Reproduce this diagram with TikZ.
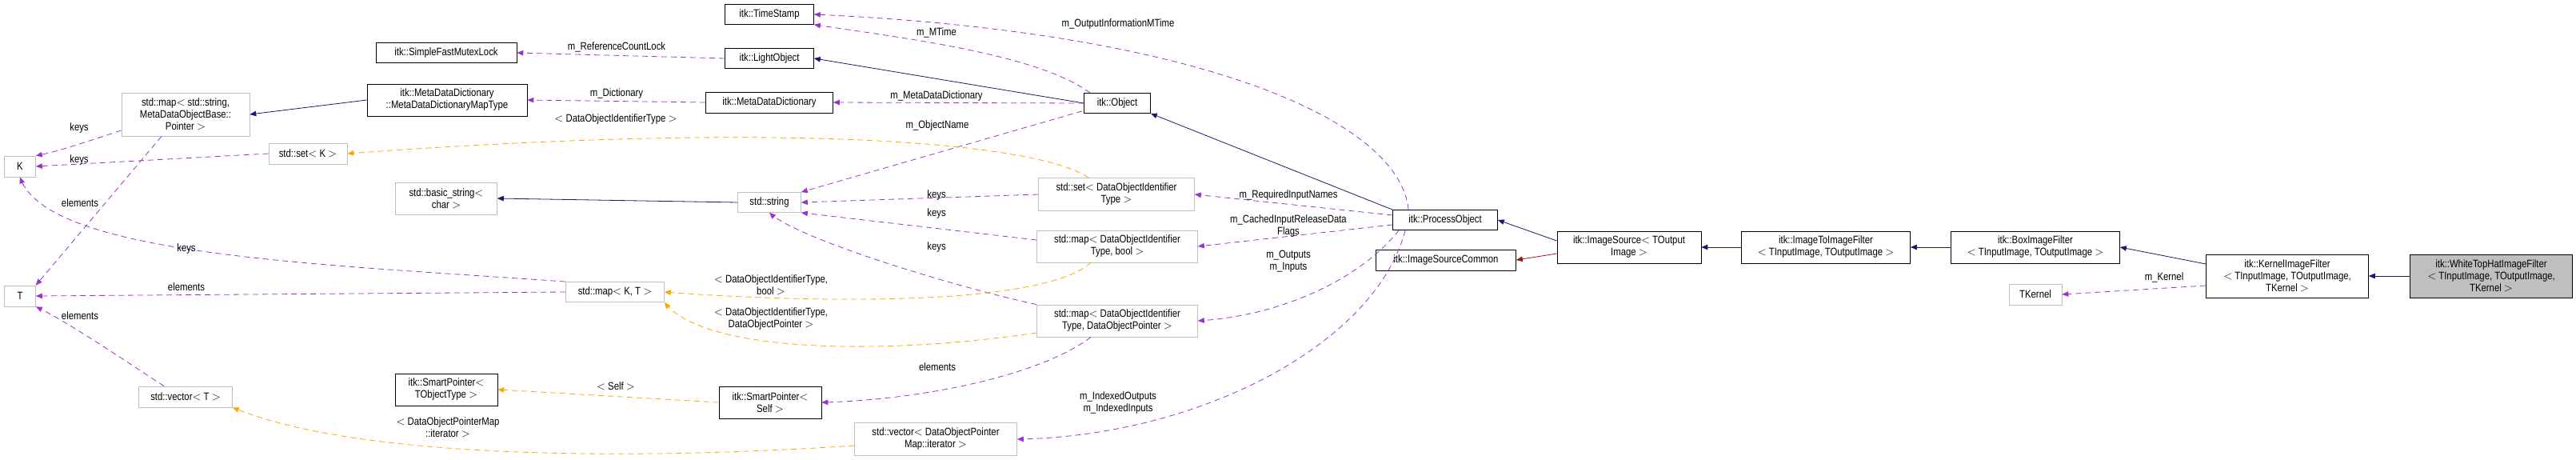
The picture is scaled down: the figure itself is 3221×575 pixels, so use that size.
\documentclass[tikz,border=0pt]{standalone}
\usepackage{fontspec}
\setmainfont{Liberation Sans}[FakeStretch=0.84]
\usetikzlibrary{arrows,positioning}
\definecolor{usecol}{HTML}{9A32CD}
\definecolor{tplcol}{HTML}{FFA500}
\definecolor{inhcol}{HTML}{191970}
\definecolor{prvcol}{HTML}{8B1A1A}
\tikzset{
  cls/.style={draw=black,thick,fill=white,align=center,inner sep=1pt,font=\fontsize{13.5}{15}\selectfont},
  ext/.style={draw=black!25,thick,fill=white,align=center,inner sep=1pt,font=\fontsize{13.5}{15}\selectfont},
  lbl/.style={align=center,inner sep=0pt,font=\fontsize{13.5}{15}\selectfont},
  use/.style={usecol,thick,dashed,dash pattern=on 7pt off 5pt,-triangle 45},
  tpl/.style={tplcol,thick,dashed,dash pattern=on 7pt off 5pt,-triangle 45},
  inh/.style={inhcol,thick,-triangle 45},
  prv/.style={prvcol,thick,-triangle 45}
}
\begin{document}
\begin{tikzpicture}[x=1pt,y=-1pt]
\useasboundingbox (0,0) rectangle (3221,575);

% classes
\node[cls,minimum width=111,minimum height=25] (stamp) at (962,18) {itk::TimeStamp};
\node[cls,minimum width=111,minimum height=25] (light) at (962,73) {itk::LightObject};
\node[cls,minimum width=176,minimum height=25] (mutex) at (558,66) {itk::SimpleFastMutexLock};
\node[cls,minimum width=159,minimum height=26] (mdd) at (962,128) {itk::MetaDataDictionary};
\node[cls,minimum width=200,minimum height=40] (mddmap) at (559,125) {itk::MetaDataDictionary\\::MetaDataDictionaryMapType};
\node[ext,minimum width=160,minimum height=54] (mapstr) at (232,143) {std::map$<$ std::string,\\MetaDataObjectBase::\\Pointer $>$};
\node[ext,minimum width=39,minimum height=26] (K) at (25,208) {K};
\node[ext,minimum width=39,minimum height=26] (T) at (25,370) {T};
\node[ext,minimum width=98,minimum height=26] (setK) at (385,192) {std::set$<$ K $>$};
\node[ext,minimum width=127,minimum height=40] (bstr) at (558,248) {std::basic\_string$<$\\char $>$};
\node[ext,minimum width=123,minimum height=25] (mapKT) at (769,365) {std::map$<$ K, T $>$};
\node[ext,minimum width=117,minimum height=26] (vecT) at (232,496) {std::vector$<$ T $>$};
\node[cls,minimum width=128,minimum height=40] (sptobj) at (558,487) {itk::SmartPointer$<$\\TObjectType $>$};
\node[cls,minimum width=83,minimum height=25] (object) at (1397,129) {itk::Object};
\node[ext,minimum width=79,minimum height=25] (str) at (962,253) {std::string};
\node[ext,minimum width=195,minimum height=41] (setid) at (1396,243) {std::set$<$ DataObjectIdentifier\\Type $>$};
\node[ext,minimum width=201,minimum height=40] (mapbool) at (1397,308) {std::map$<$ DataObjectIdentifier\\Type, bool $>$};
\node[ext,minimum width=201,minimum height=40] (mapptr) at (1397,401) {std::map$<$ DataObjectIdentifier\\Type, DataObjectPointer $>$};
\node[cls,minimum width=128,minimum height=40] (sptself) at (963,503) {itk::SmartPointer$<$\\Self $>$};
\node[ext,minimum width=203,minimum height=41] (vecit) at (1170,549) {std::vector$<$ DataObjectPointer\\Map::iterator $>$};
\node[cls,minimum width=131,minimum height=25] (proc) at (1807,275) {itk::ProcessObject};
\node[cls,minimum width=175,minimum height=26] (srccom) at (1808,325) {itk::ImageSourceCommon};
\node[cls,minimum width=180,minimum height=40] (src) at (2037,309) {itk::ImageSource$<$ TOutput\\Image $>$};
\node[cls,minimum width=211,minimum height=40] (i2i) at (2283,309) {itk::ImageToImageFilter\\$<$ TInputImage, TOutputImage $>$};
\node[cls,minimum width=211,minimum height=40] (box) at (2545,309) {itk::BoxImageFilter\\$<$ TInputImage, TOutputImage $>$};
\node[cls,minimum width=203,minimum height=54] (kernel) at (2860,345) {itk::KernelImageFilter\\$<$ TInputImage, TOutputImage,\\TKernel $>$};
\node[cls,fill=black!25,minimum width=203,minimum height=54] (wth) at (3115,345) {itk::WhiteTopHatImageFilter\\$<$ TInputImage, TOutputImage,\\TKernel $>$};
\node[ext,minimum width=66,minimum height=26] (tkern) at (2545,368) {TKernel};

% inheritance
\draw[inh] (object.west) -- (light.east);
\draw[inh] (mddmap.west) -- (mapstr.east);
\draw[inh] (str.west) -- (bstr.east);
\draw[inh] (proc.north west) -- (object.south east);
\draw[inh] (src.west) ++(0,-8) -- (proc.east);
\draw[prv] (src.west) ++(0,8) -- (srccom.east);
\draw[inh] (i2i.west) -- (src.east);
\draw[inh] (box.west) -- (i2i.east);
\draw[inh] (kernel.west) ++(0,-15) -- (box.east);
\draw[inh] (wth.west) -- (kernel.east);

% members
\draw[use] (object.north west) ++(8,0) .. controls (1300,70) and (1150,50) .. (stamp.south east);
\draw[use] (proc.north west) ++(20,0) .. controls (1750,150) and (1500,40) .. (stamp.east);
\draw[use] (light.west) -- (mutex.east);
\draw[use] (object.west) -- (mdd.east);
\draw[use] (mdd.west) -- (mddmap.east);
\draw[use] (mapstr.west) ++(0,20) .. controls (100,180) and (70,190) .. (K.north east);
\draw[use] (mapstr.south) ++(-30,0) -- (T.north east);
\draw[use] (setK.west) -- (K.east);
\draw[use] (object.south west) ++(-2,-3) -- (str.north east);
\draw[use] (setid.west) -- (str.east);
\draw[use] (mapbool.west) ++(0,-8) -- (str.south east);
\draw[use] (mapptr.north west) .. controls (1200,360) and (1000,300) .. (str.south);
\draw[use] (mapKT.north west) .. controls (400,330) and (60,320) .. (K.south);
\draw[use] (mapKT.west) -- (T.east);
\draw[use] (vecT.north) ++(-27,0) .. controls (140,440) and (80,400) .. (T.south east);
\draw[use] (mapptr.south) ++(-33,0) .. controls (1300,470) and (1150,500) .. (sptself.east);
\draw[use] (proc.west) ++(0,-6) -- (setid.east);
\draw[use] (proc.west) ++(0,6) -- (mapbool.east);
\draw[use] (proc.south west) ++(8,0) .. controls (1700,350) and (1600,395) .. (mapptr.east);
\draw[use] (proc.south west) ++(16,0) .. controls (1720,430) and (1500,545) .. (vecit.east);
\draw[use] (kernel.west) ++(0,12) -- (tkern.east);

% templates
\draw[tpl] (setid.north) ++(-35,0) .. controls (1300,180) and (1000,150) .. (setK.east);
\draw[tpl] (mapbool.south) ++(-33,0) .. controls (1300,385) and (1000,378) .. (mapKT.east);
\draw[tpl] (mapptr.west) ++(0,15) .. controls (1100,445) and (880,440) .. (mapKT.south east);
\draw[tpl] (sptself.west) -- (sptobj.east);
\draw[tpl] (vecit.west) ++(0,8) .. controls (800,575) and (450,575) .. (vecT.south east);

% labels
\node[lbl] (l1) at (771,59) {m\_ReferenceCountLock};
\node[lbl] (l2) at (771,117) {m\_Dictionary};
\node[lbl] (l3) at (770,149) {$<$ DataObjectIdentifierType $>$};
\node[lbl] (l4) at (99,160) {keys};
\node[lbl] (l5) at (99,200) {keys};
\node[lbl] (l6) at (100,254) {elements};
\node[lbl] (l7) at (233,311) {keys};
\node[lbl] (l8) at (233,359) {elements};
\node[lbl] (l9) at (100,395) {elements};
\node[lbl] (l10) at (770,483) {$<$ Self $>$};
\node[lbl] (l11) at (560,534) {$<$ DataObjectPointerMap\\::iterator $>$};
\node[lbl] (l12) at (1398,30) {m\_OutputInformationMTime};
\node[lbl] (l13) at (1171,41) {m\_MTime};
\node[lbl] (l14) at (1171,120) {m\_MetaDataDictionary};
\node[lbl] (l15) at (1172,157) {m\_ObjectName};
\node[lbl] (l16) at (1171,244) {keys};
\node[lbl] (l17) at (1171,267) {keys};
\node[lbl] (l18) at (1171,309) {keys};
\node[lbl] (l19) at (1611,244) {m\_RequiredInputNames};
\node[lbl] (l20) at (1611,283) {m\_CachedInputReleaseData\\Flags};
\node[lbl] (l21) at (1611,327) {m\_Outputs\\m\_Inputs};
\node[lbl] (l22) at (964,356) {$<$ DataObjectIdentifierType,\\bool $>$};
\node[lbl] (l23) at (964,399) {$<$ DataObjectIdentifierType,\\DataObjectPointer $>$};
\node[lbl] (l24) at (1172,459) {elements};
\node[lbl] (l25) at (1398,504) {m\_IndexedOutputs\\m\_IndexedInputs};
\node[lbl] (l26) at (2706,347) {m\_Kernel};
\end{tikzpicture}
\end{document}
